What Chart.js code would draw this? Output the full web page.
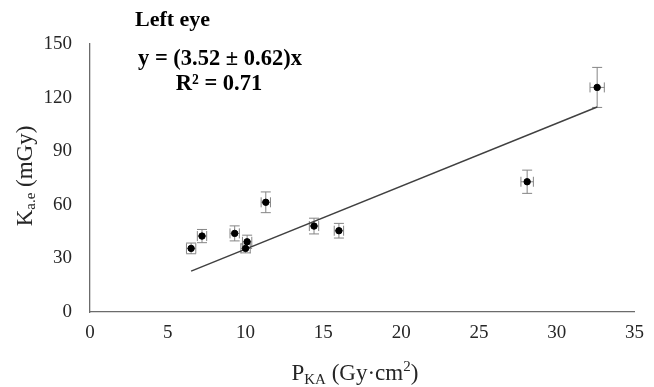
<!DOCTYPE html>
<html>
<head>
<meta charset="utf-8">
<script src="https://cdn.jsdelivr.net/npm/chart.js@4/dist/chart.umd.min.js"></script>
<style>
  html, body { margin: 0; padding: 0; background: #fff; }
  #wrap { width: 654px; height: 387px; position: relative; }
</style>
</head>
<body>
<div id="wrap"><canvas id="chart" width="654" height="387"></canvas></div>
<script>
// values
const pka = [6.5, 7.2, 9.3, 10.1, 10.0, 11.3, 14.4, 16.0, 28.1, 32.6];
const kae = [35.6, 42.5, 44.0, 39.3, 35.6, 61.4, 48.1, 45.5, 72.9, 125.7];
const pkaErr = [0.3, 0.3, 0.3, 0.3, 0.3, 0.3, 0.3, 0.3, 0.4, 0.46];
const kaeErr = [3.0, 3.7, 4.2, 3.7, 2.5, 5.8, 4.4, 4.1, 6.5, 11.2];
const slope = 3.52;
const xRange = [0, 35];
const yRange = [0, 150];
const yStep = 30;
const xStep = 5;

const serif = "'Liberation Serif', 'Times New Roman', serif";
const textColor = "#262626";
const axisColor = "#6b6b6b";

const xFit = [Math.min(...pka), Math.max(...pka)];
const fitPoints = xFit.map((v) => ({ x: v, y: slope * v }));
const points = pka.map((v, i) => ({ x: v, y: kae[i] }));

const errorBars = {
  id: "errorBars",
  beforeDatasetsDraw(chart) {
    const { ctx, scales: { x, y } } = chart;
    ctx.save();
    ctx.strokeStyle = "#858585";
    ctx.lineWidth = 1;
    const cap = 5;
    pka.forEach((v, i) => {
      const px = x.getPixelForValue(v);
      const py = y.getPixelForValue(kae[i]);
      const top = y.getPixelForValue(kae[i] + kaeErr[i]);
      const bot = y.getPixelForValue(kae[i] - kaeErr[i]);
      const left = x.getPixelForValue(v - pkaErr[i]);
      const right = x.getPixelForValue(v + pkaErr[i]);
      ctx.beginPath();
      ctx.moveTo(px, top); ctx.lineTo(px, bot);
      ctx.moveTo(px - cap, top); ctx.lineTo(px + cap, top);
      ctx.moveTo(px - cap, bot); ctx.lineTo(px + cap, bot);
      ctx.moveTo(left, py); ctx.lineTo(right, py);
      ctx.moveTo(left, py - cap); ctx.lineTo(left, py + cap);
      ctx.moveTo(right, py - cap); ctx.lineTo(right, py + cap);
      ctx.stroke();
    });
    ctx.restore();
  }
};

const labels = {
  id: "labels",
  afterDraw(chart) {
    const { ctx } = chart;
    ctx.save();
    ctx.fillStyle = "#000";
    ctx.textBaseline = "middle";

    ctx.font = `bold 22px ${serif}`;
    ctx.textAlign = "left";
    ctx.fillText("Left eye", 135, 20);

    ctx.textAlign = "center";
    ctx.font = `bold 22.5px ${serif}`;
    ctx.fillText("y = (3.52 \u00b1 0.62)x", 220, 59);
    ctx.fillText("R\u00b2 = 0.71", 219, 84);

    // x axis title with subscript
    ctx.fillStyle = textColor;
    ctx.textAlign = "left";
    ctx.textBaseline = "alphabetic";
    const big = `23px ${serif}`;
    const small = `15px ${serif}`;
    ctx.font = big;
    const wP = ctx.measureText("P").width;
    const wRest = ctx.measureText(" (Gy\u00b7cm )").width;
    ctx.font = small;
    const wSub = ctx.measureText("KA").width;
    const wSup = ctx.measureText("2").width;
    let xx = 354 - (wP + wSub + wRest) / 2;
    const base = 380;
    ctx.font = big;
    ctx.fillText("P", xx, base); xx += wP;
    ctx.font = small;
    ctx.fillText("KA", xx, base + 4); xx += wSub;
    ctx.font = big;
    const part1 = " (Gy\u00b7cm";
    ctx.fillText(part1, xx, base); xx += ctx.measureText(part1).width;
    ctx.font = small;
    ctx.fillText("2", xx, base - 9); xx += wSup;
    ctx.font = big;
    ctx.fillText(")", xx, base);

    // y axis title, rotated
    ctx.translate(32, 176);
    ctx.rotate(-Math.PI / 2);
    ctx.font = big;
    const wK = ctx.measureText("K").width;
    const wY = ctx.measureText(" (mGy)").width;
    ctx.font = small;
    const wAe = ctx.measureText("a.e").width;
    let yy = -(wK + wAe + wY) / 2;
    ctx.font = big;
    ctx.fillText("K", yy, 0); yy += wK;
    ctx.font = small;
    ctx.fillText("a.e", yy, 3); yy += wAe;
    ctx.font = big;
    ctx.fillText(" (mGy)", yy, 0);
    ctx.restore();
  }
};

new Chart(document.getElementById("chart"), {
  type: "scatter",
  data: {
    datasets: [
      {
        label: "Left eye",
        data: points,
        backgroundColor: "#000",
        borderColor: "#000",
        pointRadius: 3.2,
        pointHoverRadius: 3.2
      },
      {
        label: "Fit",
        data: fitPoints,
        showLine: true,
        borderColor: "#404040",
        borderWidth: 1.5,
        pointRadius: 0,
        fill: false
      }
    ]
  },
  options: {
    responsive: false,
    animation: false,
    layout: { padding: { left: 0, right: 12, top: 44, bottom: 0 } },
    plugins: {
      legend: { display: false },
      tooltip: { enabled: false }
    },
    scales: {
      x: {
        type: "linear",
        min: xRange[0],
        max: xRange[1],
        grid: { display: false, drawTicks: false },
        border: { display: true, color: axisColor, width: 1.3 },
        ticks: {
          stepSize: xStep,
          padding: 10,
          color: textColor,
          font: { family: serif, size: 19 }
        },
        afterFit: (s) => { s.height = 75; }
      },
      y: {
        type: "linear",
        min: yRange[0],
        max: yRange[1],
        grid: { display: false, drawTicks: false },
        border: { display: true, color: axisColor, width: 1.3 },
        ticks: {
          stepSize: yStep,
          padding: 18,
          color: textColor,
          font: { family: serif, size: 19 }
        },
        afterFit: (s) => { s.width = 90; }
      }
    }
  },
  plugins: [errorBars, labels]
});
</script>
</body>
</html>
